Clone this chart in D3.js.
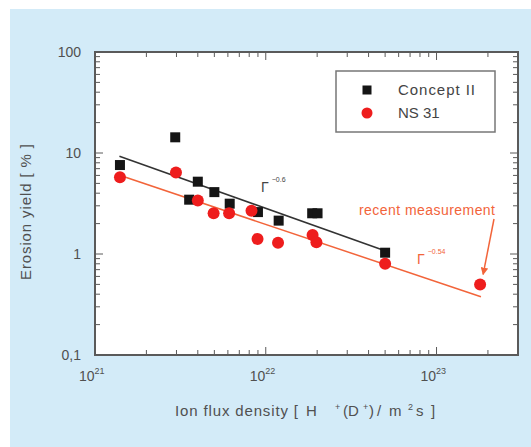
<!DOCTYPE html>
<html><head><meta charset="utf-8">
<script src="https://cdn.jsdelivr.net/npm/d3@7"></script>
<style>
html,body{margin:0;padding:0;background:#fff;}
svg{display:block;font-family:Arial,"Liberation Sans",sans-serif;}
</style></head>
<body>
<svg id="chart" width="531" height="447"></svg>
<script>
// ---- data ----
const conceptX = [1.4e21, 2.95e21, 3.56e21, 4.0e21, 5.0e21, 6.15e21, 9.0e21, 1.19e22, 1.87e22, 2.01e22, 5.0e22];
const conceptY = [7.6, 14.3, 3.45, 5.2, 4.1, 3.15, 2.6, 2.14, 2.53, 2.53, 1.03];
const ns31X = [1.4e21, 2.98e21, 4.0e21, 4.95e21, 6.1e21, 8.25e21, 8.95e21, 1.18e22, 1.88e22, 1.98e22, 5.0e22, 1.8e23];
const ns31Y = [5.74, 6.4, 3.39, 2.53, 2.53, 2.68, 1.41, 1.29, 1.54, 1.31, 0.80, 0.50];
const conceptFitX = [1.39e21, 4.8e22];
const conceptFitY = [9.3, 1.1];
const ns31FitX = [1.34e21, 1.82e23];
const ns31FitY = [6.15, 0.378];
const xTickValues = [1e21, 1e22, 1e23];
const xTickExps = ["21", "22", "23"];
const yTickValues = [0.1, 1, 10, 100];
const yTickLabels = ["0,1", "1", "10", "100"];
const seriesNames = ["Concept II", "NS 31"];
const conceptExp = "−0.6";
const ns31Exp = "−0.54";
const annotation = "recent measurement";
const annotationTarget = [1.8e23, 0.5];

// ---- layout ----
const svg = d3.select("#chart");
const L = 95, R = 518, T = 52, B = 355;
const x = d3.scaleLog().domain([1e21, 3e23]).range([L, R]);
const y = d3.scaleLog().domain([0.1, 100]).range([B, T]);

const blue = "#d3ebf8";
const axisCol = "#5a5a5a";
const txtCol = "#505050";
const redMark = "#ee1d1d";
const redLine = "#f2643a";

svg.append("rect").attr("x", 10).attr("y", 9).attr("width", 521).attr("height", 438).attr("fill", blue);
svg.append("rect").attr("x", L).attr("y", T).attr("width", R - L).attr("height", B - T).attr("fill", "#fff");

// minor/major ticks
const xMinor = [];
for (let e = 21; e <= 23; e++) for (let m = 1; m <= 9; m++) { const v = m * Math.pow(10, e); if (v >= 1e21 && v <= 3e23) xMinor.push(v); }
const yMinor = [];
for (let e = -1; e <= 2; e++) for (let m = 1; m <= 9; m++) { const v = m * Math.pow(10, e); if (v >= 0.1 && v <= 100.0001) yMinor.push(v); }
const isMajor = v => Math.abs(Math.log10(v) - Math.round(Math.log10(v))) < 1e-6;

const tk = svg.append("g").attr("stroke", axisCol).attr("stroke-width", 1);
xMinor.forEach(v => {
  const len = isMajor(v) ? 8 : 5;
  const px = x(v);
  tk.append("line").attr("x1", px).attr("x2", px).attr("y1", B).attr("y2", B - len);
  tk.append("line").attr("x1", px).attr("x2", px).attr("y1", T).attr("y2", T + len);
});
yMinor.forEach(v => {
  const len = isMajor(v) ? 8 : 5;
  const py = y(v);
  tk.append("line").attr("x1", L).attr("x2", L + len).attr("y1", py).attr("y2", py);
  tk.append("line").attr("x1", R).attr("x2", R - len).attr("y1", py).attr("y2", py);
});

// frame
svg.append("rect").attr("x", L).attr("y", T).attr("width", R - L).attr("height", B - T)
  .attr("fill", "none").attr("stroke", axisCol).attr("stroke-width", 2);

// y tick labels
svg.append("g").selectAll("text").data(yTickValues).join("text")
  .attr("x", 81).attr("y", d => y(d) + 5).attr("text-anchor", "end")
  .attr("font-size", 14).attr("fill", txtCol).text((d, i) => yTickLabels[i]);

// x tick labels
const xl = svg.append("g").selectAll("text").data(xTickValues).join("text")
  .attr("x", d => x(d) - 16).attr("y", 381)
  .attr("font-size", 14).attr("fill", txtCol);
xl.append("tspan").text("10");
xl.append("tspan").attr("dy", -7).attr("font-size", 9).text((d, i) => xTickExps[i]);

// x axis title (pieces placed to follow the reference spacing)
const xt = svg.append("g").attr("font-size", 15).attr("fill", txtCol);
const bl = 416;
xt.append("text").attr("x", 175).attr("y", bl).attr("textLength", 123).attr("lengthAdjust", "spacing").text("Ion flux density [");
xt.append("text").attr("x", 306).attr("y", bl).text("H");
xt.append("text").attr("x", 335).attr("y", bl - 6).attr("font-size", 9).text("+");
xt.append("text").attr("x", 343).attr("y", bl).text("(D");
xt.append("text").attr("x", 363).attr("y", bl - 6).attr("font-size", 9).text("+");
xt.append("text").attr("x", 369).attr("y", bl).text(")");
xt.append("text").attr("x", 377).attr("y", bl).text("/");
xt.append("text").attr("x", 389).attr("y", bl).text("m");
xt.append("text").attr("x", 408).attr("y", bl - 6).attr("font-size", 9).text("2");
xt.append("text").attr("x", 416).attr("y", bl).text("s");
xt.append("text").attr("x", 431).attr("y", bl).text("]");

svg.append("text").attr("transform", "translate(31,212) rotate(-90)")
  .attr("x", -68).attr("textLength", 136).attr("lengthAdjust", "spacing")
  .attr("font-size", 15).attr("fill", txtCol)
  .text("Erosion yield [ % ]");

// fit lines
const line = d3.line().x(d => x(d[0])).y(d => y(d[1]));
svg.append("path").attr("d", line(d3.zip(conceptFitX, conceptFitY)))
  .attr("stroke", "#333").attr("stroke-width", 1.5).attr("fill", "none");
svg.append("path").attr("d", line(d3.zip(ns31FitX, ns31FitY)))
  .attr("stroke", redLine).attr("stroke-width", 1.5).attr("fill", "none");

// markers
const sq = 10;
svg.append("g").selectAll("rect").data(d3.zip(conceptX, conceptY)).join("rect")
  .attr("x", d => x(d[0]) - sq / 2).attr("y", d => y(d[1]) - sq / 2)
  .attr("width", sq).attr("height", sq).attr("fill", "#151515");
svg.append("g").selectAll("circle").data(d3.zip(ns31X, ns31Y)).join("circle")
  .attr("cx", d => x(d[0])).attr("cy", d => y(d[1])).attr("r", 6).attr("fill", redMark);

// Gamma labels
const g1 = svg.append("text").attr("x", 261).attr("y", 192).attr("font-size", 14).attr("fill", "#444");
g1.append("tspan").text("Γ");
g1.append("tspan").attr("dx", 3).attr("dy", -10).attr("font-size", 7).text(conceptExp);
const g2 = svg.append("text").attr("x", 417).attr("y", 264).attr("font-size", 14).attr("fill", redLine);
g2.append("tspan").text("Γ");
g2.append("tspan").attr("dx", 3).attr("dy", -10).attr("font-size", 7).text(ns31Exp);

// annotation
svg.append("text").attr("x", 359).attr("y", 215).attr("textLength", 136).attr("lengthAdjust", "spacing")
  .attr("font-size", 14).attr("fill", redLine).text(annotation);
svg.append("defs").append("marker").attr("id", "ah").attr("viewBox", "0 0 10 10")
  .attr("refX", 9).attr("refY", 5).attr("markerWidth", 5).attr("markerHeight", 5).attr("orient", "auto")
  .append("path").attr("d", "M0,0 L10,5 L0,10 z").attr("fill", redLine);
svg.append("line").attr("x1", 494).attr("y1", 219)
  .attr("x2", x(annotationTarget[0]) + 3).attr("y2", y(annotationTarget[1]) - 10)
  .attr("stroke", redLine).attr("stroke-width", 1.5).attr("marker-end", "url(#ah)");

// legend
svg.append("rect").attr("x", 336).attr("y", 71).attr("width", 159).attr("height", 61)
  .attr("fill", "#fff").attr("stroke", "#777").attr("stroke-width", 1.5);
svg.append("rect").attr("x", 367 - 4.5).attr("y", 90 - 4.5).attr("width", 9).attr("height", 9).attr("fill", "#151515");
svg.append("circle").attr("cx", 367).attr("cy", 113).attr("r", 5.5).attr("fill", redMark);
svg.append("text").attr("x", 398).attr("y", 95).attr("font-size", 15).attr("textLength", 77).attr("lengthAdjust", "spacing").attr("fill", "#444").text(seriesNames[0]);
svg.append("text").attr("x", 398).attr("y", 118).attr("font-size", 15).attr("fill", "#444").text(seriesNames[1]);
</script>
</body></html>
